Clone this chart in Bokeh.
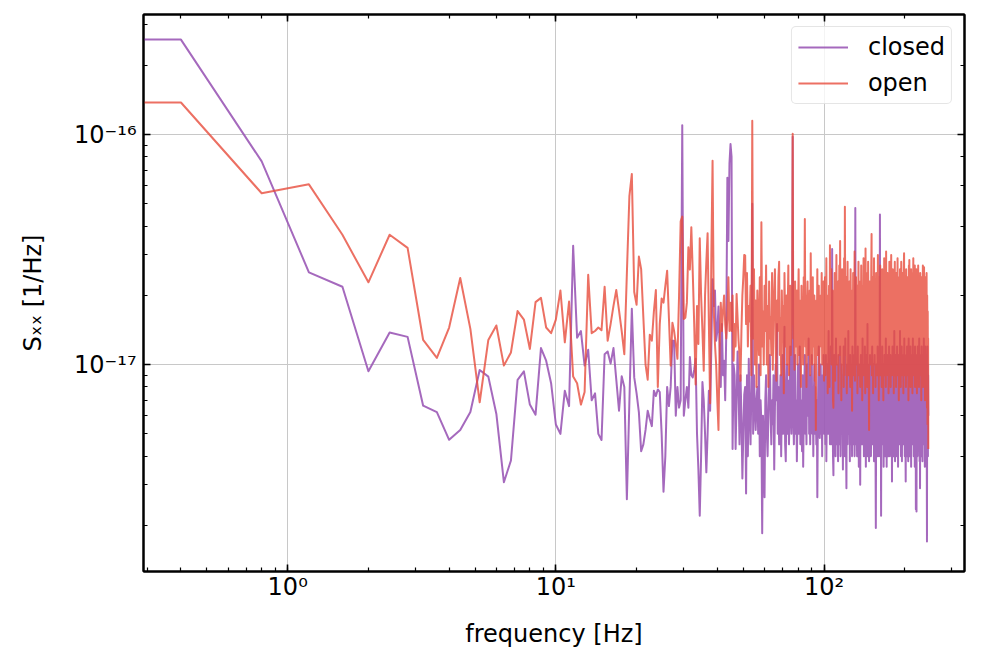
import numpy as np
from bokeh.plotting import figure
from bokeh.models import LogAxis, Legend, LegendItem, CustomJSTickFormatter, Range1d
from bokeh.embed import file_html
from bokeh.resources import INLINE

# ---------------- data (PSD values in units of 1e-18 1/Hz) ----------------
DF_HZ = 0.4          # frequency resolution of the spectra (bin 0 = DC)
UNIT = 1e-18         # scale of the value lists below

series_names = ["closed", "open"]
series_colors = ["#9b59b6", "#e74c3c"]

closed_vals = [
    259,
    259, 76.5, 25.2, 21.8, 9.35, 13.8, 13.2, 6.63, 6.22, 4.71,
    5.2, 6.22, 9.48, 8.87, 6.1, 3.08, 3.83, 8.59, 9.35, 6.7,
    6.06, 11.8, 10.4, 8.3, 5.49, 5.0, 7.7, 6.6, 32.9, 13.1,
    14.0, 9.9, 11.6, 7.0, 7.5, 5.0, 4.7, 11.1, 11.4, 10.1,
    11.8, 8.6, 6.3, 8.9, 8.0, 2.6, 6.9, 17.5, 8.8, 7.5,
    6.2, 4.2, 4.5, 5.2, 6.3, 5.8, 5.4, 7.7, 7.3, 7.8,
    7.6, 5.0, 2.8, 4.0, 8.0, 6.6, 8.0, 12.7, 12.7, 6.0,
    8.0, 6.5, 7.0, 110, 6.0, 7.0, 8.0, 6.5, 10.8, 9.0,
    8.8, 9.5, 10.6, 5.0, 3.5, 2.2, 4.0, 8.4, 7.0, 5.0,
    3.4, 5.0, 7.7, 6.3, 12, 23.5, 18, 21, 12.7, 14,
    17.9, 12, 8, 15, 9, 10.4, 7, 14, 65, 34.5,
    75, 91, 80, 4.3, 10, 9, 4.3, 7, 11.4, 8,
    4.5, 9, 6, 3.2, 5, 7.4, 8, 2.75, 9, 4,
    10.6, 6, 4.5, 8, 50, 5, 9, 6.5, 5.2, 7,
    8, 5, 10, 4, 7, 5.5, 1.85, 6, 4.5, 2.65,
    7, 9, 5, 4, 6, 8, 11, 6, 4.5, 7,
    5.5, 9, 3.5, 6.5, 10, 7, 15, 5, 8, 4.5,
    6, 9, 4, 7, 11, 5, 8, 14.6, 4.5, 3.8,
    7, 10, 5, 8.5, 4.5, 6, 12, 7, 5, 9,
    98, 6, 4.5, 8, 11, 5, 7, 3.8, 6, 10,
    5, 8, 12, 4.5, 7, 5.5, 4.2, 9, 3.6, 6,
    8, 11, 5, 7, 4.5, 10, 6, 8, 13, 5,
    7, 4.5, 9, 6, 11, 5, 8, 4, 7, 10,
    5, 8, 6, 4.5, 7, 2.65, 5.5, 9, 12, 6,
    4.8, 8, 10, 5, 7, 4, 9, 6, 11, 5,
    7, 9, 4.5, 11, 3.8, 6, 10, 5, 8, 14,
    5, 9, 4.5, 6.5, 12, 7, 4.5, 31.8, 9, 4,
    3.3, 8, 11, 5, 9, 4, 13, 6, 10, 4.5,
    7, 3.8, 11, 6, 9, 4.5, 12, 4, 8, 10,
    5, 9, 6, 3.5, 8, 12, 4.5, 9, 4, 13,
    6, 4.5, 2.9, 9, 10, 4.5, 7, 14, 5, 6,
    9, 3.8, 11, 6, 8, 4.5, 10, 4, 12, 6,
    7, 4.5, 9, 11, 4, 6, 48, 8, 4.5, 10,
    6, 4, 9, 12, 4.5, 7, 3.6, 10, 6, 9,
    3.0, 7, 11, 4.5, 9, 4.5, 6, 13, 4.5, 8,
    10, 4, 9, 6, 12, 4.5, 7, 3.6, 11, 6,
    9, 4.5, 15, 4, 7, 10, 5, 3.8, 9, 6,
    11, 4.5, 8, 4, 10, 6, 9, 12, 4.5, 7,
    5, 10, 6, 3.8, 9, 11, 4.5, 8, 4, 1.95,
    6, 10, 4.5, 9, 4, 12, 7, 5, 10, 6,
    4, 9, 11, 45, 6, 4.5, 9, 2.2, 7, 10,
    5, 12, 4.5, 8, 6, 10, 3.6, 9, 5, 11,
    7, 4, 10, 6, 13, 4.5, 9, 3.6, 8, 11,
    5, 9, 6, 4, 10, 7, 12, 4.5, 9, 4,
    6, 11, 4.5, 8, 10, 4.5, 9, 3.1, 6, 12,
    5, 9, 7, 4, 10, 6, 14, 4.5, 8, 3.8,
    9, 11, 4.5, 8, 6, 10, 4, 12, 5, 9,
    7, 3.6, 10, 6, 11, 4.5, 9, 4.5, 8, 14,
    5, 9, 6, 4, 10, 7, 12, 3.8, 9, 5,
    11, 6, 8, 4.5, 10, 4.5, 9, 13, 6, 4,
    8, 10, 4.5, 3.1, 9, 6, 11, 4, 7, 12,
    5, 9, 6, 10, 3.8, 8, 13, 4.5, 9, 6,
    4, 10, 7, 4.5, 12, 6, 9, 3.6, 11, 5,
    8, 10, 4.5, 9, 6, 13, 4.5, 7, 11, 4,
    9, 6, 10, 4.5, 3.6, 12, 7, 4.5, 9, 2.35,
    6, 10, 2.3, 8, 11, 4.5, 9, 4, 12, 6,
    8, 4.5, 10, 4.5, 9, 13, 6, 3.8, 8, 2.9,
    10, 4.5, 9, 6, 11, 4, 8, 12, 4.5, 9,
    6, 3.8, 10, 7, 4.5, 11, 4.5, 9, 13, 6,
    4.5, 10, 7, 3.6, 9, 12, 4.5, 8, 4, 11,
    6, 9, 4.5, 3.8, 1.7, 8, 12, 4.5, 10, 4,
    9, 6,
]

open_vals = [
    138,
    138, 55.6, 60.8, 36.7, 22.8, 36.7, 32.2, 12.8, 10.7, 14.5,
    23.8, 14.3, 6.86, 12.8, 14.8, 9.9, 11.3, 17.1, 15.7, 11.7,
    18.7, 19.5, 14.5, 13.7, 15.7, 21.0, 12.5, 18.8, 8.87, 8.3,
    6.7, 7.6, 24.6, 13.7, 14.0, 14.5, 14.1, 21.8, 12.7, 15.0,
    18, 21.1, 17.2, 14, 11.1, 25, 54, 67.5, 20.7, 18.2,
    29.5, 26, 16, 10.0, 8.6, 13.5, 12.7, 17, 21.1, 8.0,
    15, 19.4, 18.6, 22, 25.6, 16, 9.9, 15.2, 14, 12.3,
    10.6, 20, 42, 44, 15.8, 16, 18.6, 32.4, 25.9, 39.6,
    25, 15, 8.2, 18, 12.3, 35.4, 20, 14, 9.4, 20,
    28, 37.3, 15, 6.8, 30, 77, 17.2, 12.3, 10, 7,
    5.2, 12, 18.6, 14, 17.2, 20, 15, 13.0, 16, 24,
    14, 18.6, 14, 20, 10.4, 15, 12, 20.3, 16, 12.7,
    11, 8.5, 14, 20, 24, 30, 29.8, 15, 25, 12,
    18, 15.4, 22, 9, 115, 13, 26, 10, 19, 8,
    21, 15, 11, 24, 9, 41.6, 12, 17, 10, 22,
    14, 27, 10, 18, 8, 23, 13, 16, 11, 25,
    9.5, 17, 21, 26, 12, 8.5, 19, 14, 24, 28,
    11, 16, 9, 21, 13, 18, 7.5, 25, 15, 12,
    20, 10, 17, 27, 9, 14, 22, 11, 19, 15,
    101, 13, 18, 9.5, 23, 12, 16, 21, 10, 17,
    26, 11, 19, 14, 8, 22, 13, 17, 10, 24,
    15, 43, 12, 20, 8, 18, 23, 11, 16, 13,
    21, 9, 30.5, 14, 18, 10, 24, 12, 17, 20,
    8.5, 15, 5.2, 19, 13, 26, 11, 17, 22, 9,
    16, 12, 20, 14, 25, 10, 18, 13, 23, 8.5,
    17, 24, 9, 15, 29, 11, 20, 7.5, 16, 13,
    22, 8, 33, 12, 19, 26, 10, 16, 21, 7,
    6.5, 18, 13, 25, 8.5, 20, 14, 30, 10, 17,
    12, 23, 7.5, 16, 27, 11, 34.5, 13, 20, 7,
    17, 26, 10, 14, 22, 8, 29, 9, 48.6, 15,
    11, 19, 24, 7.5, 15, 28, 12, 20, 9, 17,
    23, 13, 8, 26, 15, 10, 21, 6.3, 18, 12,
    25, 9, 17, 14, 31, 8.5, 19, 13, 24, 10,
    16, 22, 7.5, 18, 12, 28, 9, 17, 23, 13,
    8, 20, 14, 27, 10, 16, 7, 22, 12, 19,
    29, 9, 17, 13, 21, 7.5, 32, 14, 10, 25,
    16, 8, 20, 12, 28, 18, 9, 5.2, 17, 23,
    13, 10, 21, 15, 26, 37, 9, 19, 12, 24,
    7.5, 17, 14, 29, 10, 20, 13, 23, 8, 16,
    25, 11, 18, 9, 22, 14, 30, 10, 17, 7,
    24, 13, 20, 16, 27, 9, 18, 12, 23, 8,
    17, 26, 10, 15, 21, 7, 19, 13, 29, 9,
    16, 24, 12, 18, 8, 31, 14, 21, 10, 17,
    25, 9, 19, 13, 7.5, 22, 16, 28, 11, 18,
    12, 21, 8, 17, 30, 14, 24, 9, 18, 13,
    26, 10, 16, 20, 7.5, 22, 12, 17, 28, 9,
    18, 13, 21, 8, 25, 15, 10, 20, 16, 29,
    9, 17, 12, 24, 7, 18, 14, 22, 10, 26,
    13, 20, 8, 16, 28, 12, 21, 9, 17, 25,
    15, 10, 22, 7.5, 18, 27, 30.5, 13, 20, 9,
    16, 23, 11, 18, 8, 26, 14, 21, 10, 17,
    24, 9, 19, 13, 22, 7, 16, 27, 12, 28.5,
    18, 10, 21, 14, 8, 23, 17, 26, 9, 19,
    13, 22, 16, 7.5, 25, 12, 18, 29, 10, 21,
    15, 9, 23, 17, 27, 8, 20, 13, 22, 11,
    16, 26, 10, 18, 7.5, 21, 14, 25, 9, 17,
    27, 12, 19, 13, 8, 23, 16, 22, 10, 18,
    25, 9, 17, 14, 21, 7, 24, 12, 19, 15,
    10, 22, 18, 27, 8, 17, 13, 23, 9, 26.5,
    14, 21, 11, 19, 7, 24, 16, 10, 22, 13,
    18, 8, 25, 12, 6.5, 20, 14, 5.5, 17, 9,
    13, 4.3,
]

x_label = "frequency [Hz]"
y_label = "S\u2093\u2093 [1/Hz]"

# frequency grids: bin k at k * DF_HZ (k = 0 is the DC bin)
f_closed = DF_HZ * np.arange(len(closed_vals))
f_open = DF_HZ * np.arange(len(open_vals))
# like matplotlib's log scale, non-positive frequencies are clipped to a tiny value
f_closed = np.clip(f_closed, 1e-6, None)
f_open = np.clip(f_open, 1e-6, None)
y_closed = np.array(closed_vals) * UNIT
y_open = np.array(open_vals) * UNIT

FONT = "DejaVu Sans"

p = figure(frame_width=821, frame_height=557,
           x_axis_type="log", y_axis_type="log",
           x_range=Range1d(0.290, 334), y_range=Range1d(1.26e-18, 3.33e-16),
           output_backend="svg", toolbar_location=None,
           min_border_left=143, min_border_top=14, min_border_right=12,
           min_border_bottom=91, background_fill_color="white",
           border_fill_color="white")

sup_code = """
const sup = {"-":"\u207b","0":"\u2070","1":"\u00b9","2":"\u00b2","3":"\u00b3",
             "4":"\u2074","5":"\u2075","6":"\u2076","7":"\u2077","8":"\u2078","9":"\u2079"};
const e = Math.round(Math.log10(tick));
return "10" + String(e).split("").map(c => sup[c]).join("");
"""

top_axis = LogAxis()
right_axis = LogAxis()
p.add_layout(top_axis, "above")
p.add_layout(right_axis, "right")

for ax in p.axis:
    ax.axis_line_color = "black"
    ax.axis_line_width = 2
    ax.major_tick_in = 7
    ax.major_tick_out = 0
    ax.minor_tick_in = 4
    ax.minor_tick_out = 0
    ax.major_tick_line_color = "black"
    ax.minor_tick_line_color = "black"
    ax.major_tick_line_width = 1.6
    ax.minor_tick_line_width = 1.2
    ax.major_label_text_font = FONT
    ax.major_label_text_font_size = "24px"
    ax.major_label_text_color = "black"
    ax.formatter = CustomJSTickFormatter(code=sup_code)

# top and right axes: ticks only, no labels drawn
for ax in (top_axis, right_axis):
    ax.major_label_text_color = None
    ax.major_label_text_font_size = "0px"
    ax.major_label_standoff = 0
    ax.axis_label = None

xa = p.below[0]
ya = p.left[0]
xa.axis_label = x_label
ya.axis_label = y_label
for ax in (xa, ya):
    ax.axis_label_text_font = FONT
    ax.axis_label_text_font_size = "24px"
    ax.axis_label_text_font_style = "normal"
    ax.axis_label_text_color = "black"
xa.major_label_standoff = 1
xa.axis_label_standoff = 16
ya.major_label_standoff = 7
ya.axis_label_standoff = 24

p.xgrid.grid_line_color = "#c8c8c8"
p.ygrid.grid_line_color = "#c8c8c8"
p.xgrid.grid_line_width = 1
p.ygrid.grid_line_width = 1

p.outline_line_color = "black"
p.outline_line_width = 2

r_closed = p.line(f_closed, y_closed, line_color=series_colors[0], line_width=2,
                  line_alpha=0.9, line_join="round")
r_open = p.line(f_open, y_open, line_color=series_colors[1], line_width=2,
                line_alpha=0.8, line_join="round")

legend = Legend(items=[LegendItem(label=series_names[0], renderers=[r_closed]),
                       LegendItem(label=series_names[1], renderers=[r_open])],
                location="top_right", label_text_font=FONT,
                label_text_font_size="24px", label_text_color="black",
                border_line_color="#cccccc", border_line_width=1,
                background_fill_color="white", background_fill_alpha=0.8,
                glyph_width=50, glyph_height=24, label_height=24,
                label_standoff=20, spacing=8, padding=6, margin=12)
try:
    legend.border_radius = 5
except Exception:
    pass
p.add_layout(legend)

open("out.html", "w").write(file_html(p, INLINE))
